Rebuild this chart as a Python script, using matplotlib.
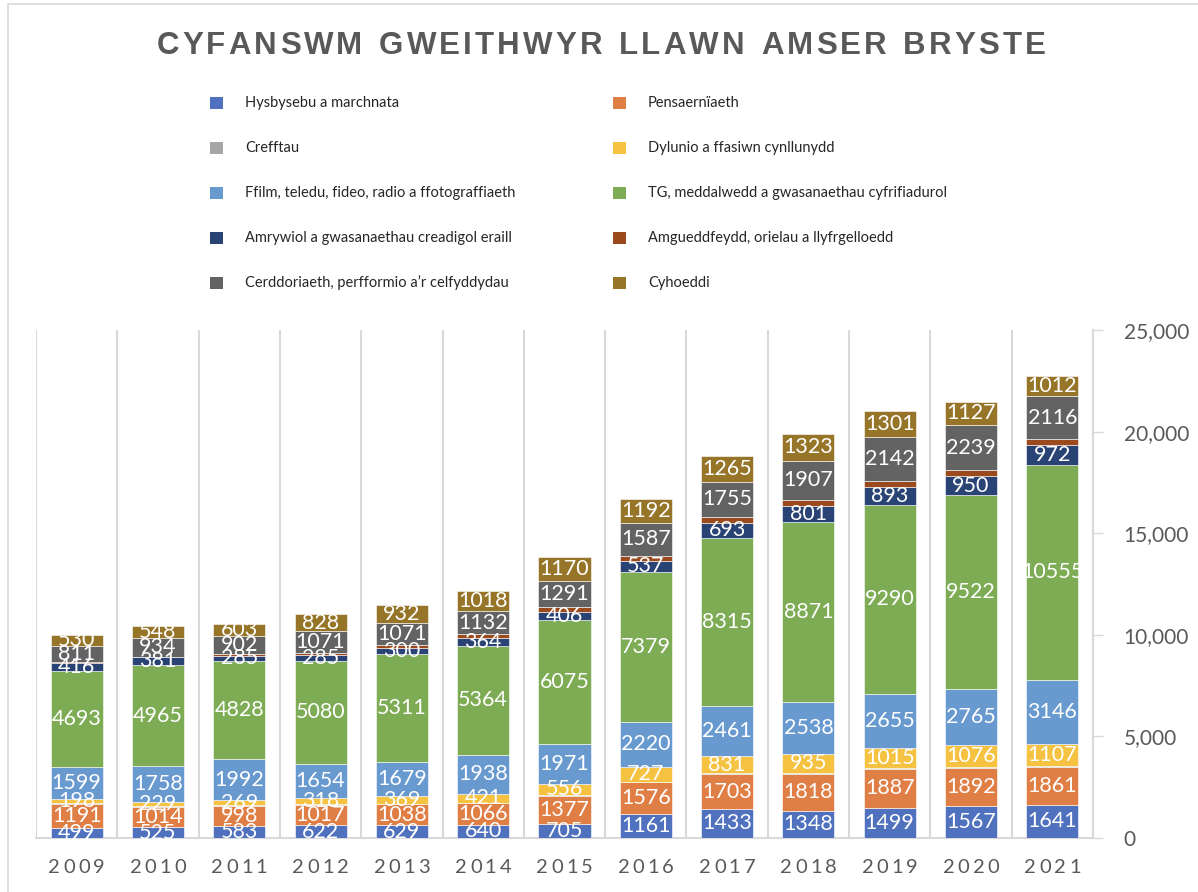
"""Stacked bar chart of full-time creative industry workers in Bristol, 2009-2021."""
import numpy as np
import matplotlib
matplotlib.use("Agg")
import matplotlib.pyplot as plt
from matplotlib.patches import Rectangle

years = ["2009", "2010", "2011", "2012", "2013", "2014", "2015",
         "2016", "2017", "2018", "2019", "2020", "2021"]

categories = [
    "Hysbysebu a marchnata",
    "Pensaernïaeth",
    "Crefftau",
    "Dylunio a ffasiwn cynllunydd",
    "Ffilm, teledu, fideo, radio a ffotograffiaeth",
    "TG, meddalwedd a gwasanaethau cyfrifiadurol",
    "Amrywiol a gwasanaethau creadigol eraill",
    "Amgueddfeydd, orielau a llyfrgelloedd",
    "Cerddoriaeth, perfformio a’r celfyddydau",
    "Cyhoeddi",
]

hysbysebu = [499, 525, 583, 622, 629, 640, 705, 1161, 1433, 1348, 1499, 1567, 1641]
pensaerniaeth = [1191, 1014, 998, 1017, 1038, 1066, 1377, 1576, 1703, 1818, 1887, 1892, 1861]
crefftau = [20, 20, 25, 30, 30, 35, 35, 40, 45, 45, 50, 45, 40]
dylunio = [198, 229, 269, 318, 369, 421, 556, 727, 831, 935, 1015, 1076, 1107]
ffilm = [1599, 1758, 1992, 1654, 1679, 1938, 1971, 2220, 2461, 2538, 2655, 2765, 3146]
tg = [4693, 4965, 4828, 5080, 5311, 5364, 6075, 7379, 8315, 8871, 9290, 9522, 10555]
amrywiol = [416, 381, 285, 285, 300, 364, 406, 537, 693, 801, 893, 950, 972]
amgueddfeydd = [30, 40, 60, 110, 130, 190, 220, 260, 300, 300, 290, 280, 290]
cerddoriaeth = [811, 934, 902, 1071, 1071, 1132, 1291, 1587, 1755, 1907, 2142, 2239, 2116]
cyhoeddi = [530, 548, 603, 828, 932, 1018, 1170, 1192, 1265, 1323, 1301, 1127, 1012]

series = [hysbysebu, pensaerniaeth, crefftau, dylunio, ffilm, tg,
          amrywiol, amgueddfeydd, cerddoriaeth, cyhoeddi]
labelled = [True, True, False, True, True, True, True, False, True, True]
colors = ["#4F71BE", "#E07F45", "#A5A5A5", "#F5C242", "#6899CF",
          "#7DAC55", "#2A4375", "#9B4A1E", "#636363", "#977528"]

TEXT_GREY = "#595959"
W, H = 1198, 892


def px(x, y):
    """Figure pixels (origin top-left) to figure fraction."""
    return x / W, 1 - y / H


def spaced_text(fig, s, xc, y, gap, **kw):
    """Draw a string with extra letter spacing, centred at pixel xc."""
    renderer = fig.canvas.get_renderer()
    widths = []
    for ch in s:
        t = fig.text(0, 0, ch if ch != " " else "n", **kw)
        widths.append(t.get_window_extent(renderer).width * (0.55 if ch == " " else 1))
        t.remove()
    total = sum(widths) + gap * (len(s) - 1)
    x = xc - total / 2
    for ch, w in zip(s, widths):
        fx, fy = px(x, y)
        fig.text(fx, fy, ch, ha="left", va="baseline", **kw)
        x += w + gap


fig = plt.figure(figsize=(W / 100, H / 100), dpi=100)
ax = fig.add_axes([36 / W, (H - 838) / H, (1093 - 36) / W, (838 - 330) / H])

x = np.arange(len(years))
bottom = np.zeros(len(years))
for name, vals, col, lab in zip(categories, series, colors, labelled):
    bars = ax.bar(x, vals, 0.64, bottom=bottom, color=col, label=name,
                  edgecolor="white", linewidth=0.4, zorder=3)
    if lab:
        ax.bar_label(bars, labels=[str(v) for v in vals], label_type="center",
                     color="white", fontsize=15.5, family="Lato", zorder=4)
    bottom += np.array(vals)

ax.set_xlim(-0.5, len(years) - 0.5)
ax.set_ylim(0, 25000)
ax.yaxis.tick_right()
ax.set_yticks(np.arange(0, 25001, 5000))
ax.set_yticklabels([f"{v:,}" for v in range(0, 25001, 5000)],
                   fontsize=15, family="Lato", color=TEXT_GREY)
ax.tick_params(axis="y", length=7, width=1, color="#D9D9D9", pad=15)
ax.set_xticks(x)
ax.set_xticklabels([])
ax.tick_params(axis="x", length=0)

for b in np.arange(-0.5, len(years), 1.0):
    ax.axvline(b, color="#D9D9D9", lw=1.5, zorder=1)
for side in ["top", "left"]:
    ax.spines[side].set_visible(False)
ax.spines["right"].set_color("#D9D9D9")
ax.spines["right"].set_linewidth(1.5)
ax.spines["bottom"].set_color("#D9D9D9")
ax.spines["bottom"].set_linewidth(1.5)

# year labels with letter spacing
fig.canvas.draw()
for i, yr in enumerate(years):
    xd = ax.transData.transform((i, 0))[0]
    spaced_text(fig, yr, xd, 873, 3.2, fontsize=14.5, family="Lato", color=TEXT_GREY)

# title
spaced_text(fig, "CYFANSWM GWEITHWYR LLAWN AMSER BRYSTE", 601, 54, 3.1,
            fontsize=22.5, family="Liberation Sans", weight="bold", color=TEXT_GREY)

# legend, filled row by row in stacking order
for i, (name, col) in enumerate(zip(categories, colors)):
    row, colno = divmod(i, 2)
    mx = [210, 613][colno]
    my = 103 + 45 * row
    fx, fy = px(mx, my + 6)
    fig.patches.append(Rectangle((fx, fy), 13 / W, 12 / H, transform=fig.transFigure,
                                 facecolor=col, edgecolor="none"))
    tx, ty = px(mx + 35, my)
    fig.text(tx, ty, name, fontsize=10.5, family="Lato", color="#262626",
             ha="left", va="center")

# outer border
fx, fy = px(8, 4)
fig.patches.append(Rectangle((fx, -0.1), 1.2, fy + 0.1, transform=fig.transFigure,
                             facecolor="none", edgecolor="#D9D9D9", lw=1.2))

fig.savefig("out.png", dpi=100)
